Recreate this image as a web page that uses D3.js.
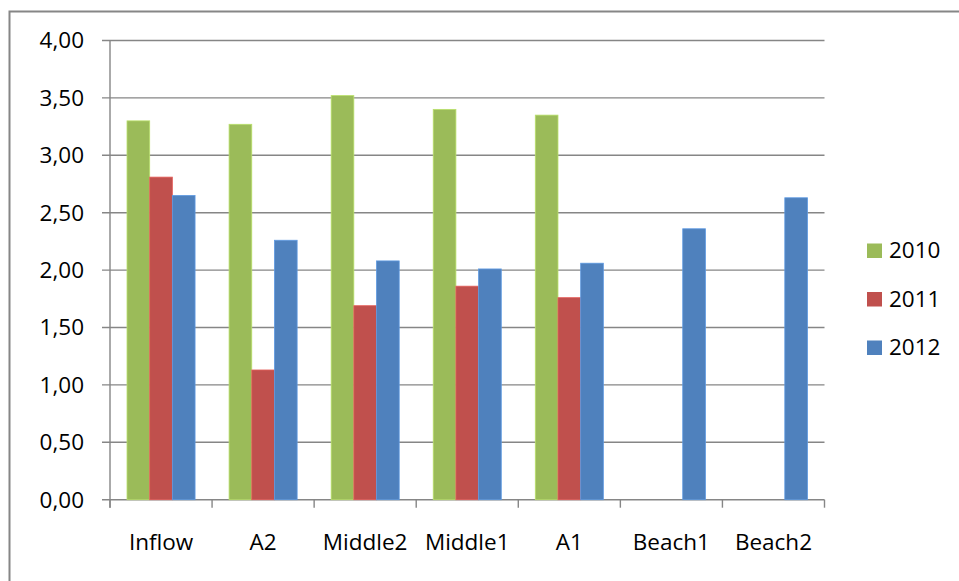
<!DOCTYPE html>
<html>
<head>
<meta charset="utf-8">
<script src="https://cdn.jsdelivr.net/npm/d3@7"></script>
<style>
  html, body { margin: 0; padding: 0; background: #fff; }
  svg { display: block; }
  text { font-family: "Open Sans", Lato, sans-serif; fill: #000; }
</style>
</head>
<body>
<svg id="chart" width="959" height="581"></svg>
<script>
// Sampling sites along the x axis
const categories = ["Inflow", "A2", "Middle2", "Middle1", "A1", "Beach1", "Beach2"];
// Yearly series (null = no measurement)
const series = ["2010", "2011", "2012"];
const values2010 = [3.30, 3.27, 3.52, 3.40, 3.35, null, null];
const values2011 = [2.81, 1.13, 1.69, 1.86, 1.76, null, null];
const values2012 = [2.65, 2.26, 2.08, 2.01, 2.06, 2.36, 2.63];
const yTicks = [0, 0.5, 1, 1.5, 2, 2.5, 3, 3.5, 4];
const colors = ["#9BBB59", "#C0504D", "#4F81BD"];

const seriesValues = [values2010, values2011, values2012];
const rows = categories.map((c, i) => ({
  cat: c,
  vals: series.map((s, j) => ({ key: s, value: seriesValues[j][i], idx: j }))
}));

const svg = d3.select("#chart");
const plot = { left: 110, right: 824.5, top: 40.5, bottom: 499.7 };
const gridColor = "#868686";
const fontSize = 22.5;

// Outer chart frame (runs off the right and bottom edges)
svg.append("path")
  .attr("d", "M9.5,581 L9.5,11.5 L959,11.5")
  .attr("fill", "none")
  .attr("stroke", gridColor)
  .attr("stroke-width", 2);

const x0 = d3.scaleBand().domain(categories).range([plot.left, plot.right]).padding(0);
const bw = x0.bandwidth();
const gap = bw * 0.75 / 4.5;
const x1 = d3.scaleBand().domain(series).range([gap, bw - gap]).padding(0);
const y = d3.scaleLinear().domain([0, 4]).range([plot.bottom, plot.top]);

const locale = d3.formatLocale({ decimal: ",", thousands: ".", grouping: [3], currency: ["", ""] });
const fmt = locale.format(".2f");

// Horizontal gridlines with their tick stubs
svg.append("g")
  .selectAll("line")
  .data(yTicks)
  .join("line")
  .attr("x1", plot.left - 8)
  .attr("x2", plot.right)
  .attr("y1", d => y(d))
  .attr("y2", d => y(d))
  .attr("stroke", gridColor)
  .attr("stroke-width", 1.4);

// Y axis labels
svg.append("g")
  .selectAll("text")
  .data(yTicks)
  .join("text")
  .attr("x", 84)
  .attr("y", d => y(d) + 7.8)
  .attr("text-anchor", "end")
  .attr("font-size", fontSize)
  .text(d => fmt(d));

// Vertical axis line
svg.append("line")
  .attr("x1", plot.left).attr("x2", plot.left)
  .attr("y1", plot.top).attr("y2", plot.bottom + 8)
  .attr("stroke", gridColor).attr("stroke-width", 1.4);

// Category boundary ticks
const boundaries = categories.map(c => x0(c)).concat([plot.right]);
svg.append("g")
  .selectAll("line")
  .data(boundaries)
  .join("line")
  .attr("x1", d => d).attr("x2", d => d)
  .attr("y1", plot.bottom).attr("y2", plot.bottom + 8)
  .attr("stroke", gridColor).attr("stroke-width", 1.4);

// Bars
const groups = svg.append("g")
  .selectAll("g")
  .data(rows)
  .join("g")
  .attr("transform", d => `translate(${x0(d.cat)},0)`);

groups.selectAll("rect")
  .data(d => d.vals.filter(v => v.value != null))
  .join("rect")
  .attr("x", d => x1(d.key))
  .attr("width", x1.bandwidth())
  .attr("y", d => y(d.value))
  .attr("height", d => y(0) - y(d.value))
  .attr("fill", d => colors[d.idx])
  .attr("stroke", d => d3.color(colors[d.idx]).brighter(0.5))
  .attr("stroke-width", 0.8);

// X axis labels
svg.append("g")
  .selectAll("text")
  .data(categories)
  .join("text")
  .attr("x", d => x0(d) + bw / 2)
  .attr("y", 550)
  .attr("text-anchor", "middle")
  .attr("font-size", fontSize)
  .text(d => d);

// Legend
const legend = svg.append("g")
  .selectAll("g")
  .data(series)
  .join("g")
  .attr("transform", (d, i) => `translate(867,${243.5 + i * 48.5})`);

legend.append("rect")
  .attr("width", 15).attr("height", 14.5)
  .attr("fill", (d, i) => colors[i]);

legend.append("text")
  .attr("x", 22)
  .attr("y", 14.5)
  .attr("font-size", fontSize)
  .text(d => d);
</script>
</body>
</html>
